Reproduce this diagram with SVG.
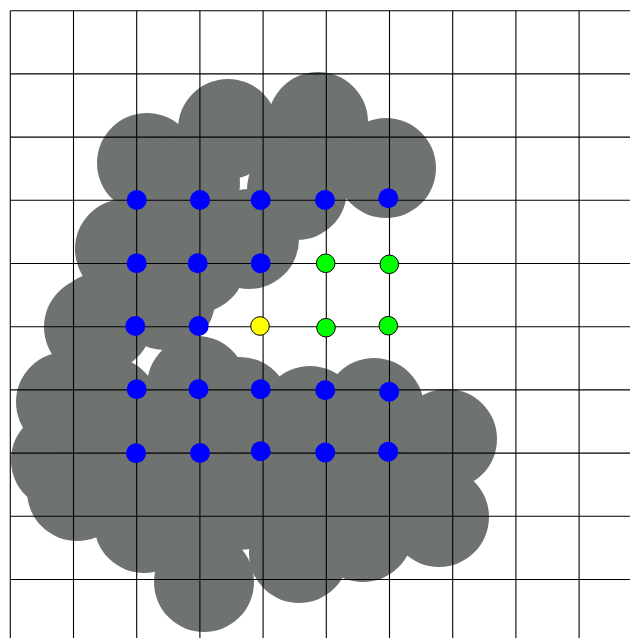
<svg xmlns="http://www.w3.org/2000/svg" width="630" height="638" viewBox="0 0 630 638">
<style>
.blob{fill:#6f736f}
.grid line{stroke:#000;stroke-width:1.1}
.blue{fill:#0000ff}
.green{fill:#00ff00;stroke:#000;stroke-width:1}
.yellow{fill:#ffff00;stroke:#000;stroke-width:1}
</style>
<rect width="630" height="638" fill="#fff"/>
<g id="coverage" class="blob">
<circle cx="147" cy="163" r="50"/>
<circle cx="228" cy="129" r="50"/>
<circle cx="318" cy="122" r="50"/>
<circle cx="386" cy="168" r="50"/>
<circle cx="297" cy="190" r="50"/>
<circle cx="190" cy="183" r="50"/>
<circle cx="249" cy="239" r="50"/>
<circle cx="125" cy="249" r="50"/>
<circle cx="196" cy="263" r="50"/>
<circle cx="165" cy="300" r="50"/>
<circle cx="94" cy="327" r="50"/>
<circle cx="102" cy="322" r="50"/>
<circle cx="197" cy="386" r="50"/>
<circle cx="240" cy="407" r="50"/>
<circle cx="310" cy="416" r="50"/>
<circle cx="374" cy="408" r="50"/>
<circle cx="447" cy="439" r="50"/>
<circle cx="439" cy="517" r="50"/>
<circle cx="363" cy="532" r="50"/>
<circle cx="299" cy="553" r="50"/>
<circle cx="204" cy="582" r="50"/>
<circle cx="144" cy="523" r="50"/>
<circle cx="77" cy="491" r="50"/>
<circle cx="61" cy="460" r="50"/>
<circle cx="66" cy="402" r="50"/>
<circle cx="109" cy="407" r="50"/>
<circle cx="150" cy="450" r="50"/>
<circle cx="200" cy="450" r="50"/>
<circle cx="260" cy="450" r="50"/>
<circle cx="320" cy="460" r="50"/>
<circle cx="390" cy="460" r="50"/>
<circle cx="240" cy="500" r="50"/>
<circle cx="180" cy="500" r="50"/>
<circle cx="320" cy="510" r="50"/>
<circle cx="390" cy="500" r="50"/>
</g>
<g id="grid" class="grid">
<line x1="10.3" y1="10.7" x2="10.3" y2="638"/>
<line x1="73.5" y1="10.7" x2="73.5" y2="638"/>
<line x1="136.7" y1="10.7" x2="136.7" y2="638"/>
<line x1="199.9" y1="10.7" x2="199.9" y2="638"/>
<line x1="263.1" y1="10.7" x2="263.1" y2="638"/>
<line x1="326.3" y1="10.7" x2="326.3" y2="638"/>
<line x1="389.5" y1="10.7" x2="389.5" y2="638"/>
<line x1="452.7" y1="10.7" x2="452.7" y2="638"/>
<line x1="515.9" y1="10.7" x2="515.9" y2="638"/>
<line x1="579.1" y1="10.7" x2="579.1" y2="638"/>
<line x1="10.3" y1="10.7" x2="630" y2="10.7"/>
<line x1="10.3" y1="73.9" x2="630" y2="73.9"/>
<line x1="10.3" y1="137.1" x2="630" y2="137.1"/>
<line x1="10.3" y1="200.3" x2="630" y2="200.3"/>
<line x1="10.3" y1="263.5" x2="630" y2="263.5"/>
<line x1="10.3" y1="326.7" x2="630" y2="326.7"/>
<line x1="10.3" y1="389.9" x2="630" y2="389.9"/>
<line x1="10.3" y1="453.1" x2="630" y2="453.1"/>
<line x1="10.3" y1="516.3" x2="630" y2="516.3"/>
<line x1="10.3" y1="579.5" x2="630" y2="579.5"/>
</g>
<g id="connectors"></g>
<g id="n-1-1"><circle class="blue" cx="136.7" cy="200" r="10"/></g>
<g id="n-1-2"><circle class="blue" cx="200" cy="200" r="10"/></g>
<g id="n-1-3"><circle class="blue" cx="260.7" cy="200" r="10"/></g>
<g id="n-1-4"><circle class="blue" cx="325" cy="200" r="10"/></g>
<g id="n-1-5"><circle class="blue" cx="388.3" cy="198.3" r="10"/></g>
<g id="n-2-1"><circle class="blue" cx="136.7" cy="263.3" r="10"/></g>
<g id="n-2-2"><circle class="blue" cx="197.7" cy="263.3" r="10"/></g>
<g id="n-2-3"><circle class="blue" cx="260.7" cy="263.3" r="10"/></g>
<g id="n-2-4"><circle class="green" cx="325.7" cy="263.3" r="9.3"/></g>
<g id="n-2-5"><circle class="green" cx="389.3" cy="264.3" r="9.3"/></g>
<g id="n-3-1"><circle class="blue" cx="135.3" cy="326" r="10"/></g>
<g id="n-3-2"><circle class="blue" cx="198.7" cy="326" r="10"/></g>
<g id="n-3-3"><circle class="yellow" cx="260" cy="326" r="9.3"/></g>
<g id="n-3-4"><circle class="green" cx="326" cy="327.7" r="9.3"/></g>
<g id="n-3-5"><circle class="green" cx="388.3" cy="325.7" r="9.3"/></g>
<g id="n-4-1"><circle class="blue" cx="136.7" cy="389.3" r="10"/></g>
<g id="n-4-2"><circle class="blue" cx="198.5" cy="389.3" r="10"/></g>
<g id="n-4-3"><circle class="blue" cx="260.7" cy="389.3" r="10"/></g>
<g id="n-4-4"><circle class="blue" cx="325.2" cy="390.3" r="10"/></g>
<g id="n-4-5"><circle class="blue" cx="389.2" cy="391.7" r="10"/></g>
<g id="n-5-1"><circle class="blue" cx="136" cy="453.3" r="10"/></g>
<g id="n-5-2"><circle class="blue" cx="200" cy="453" r="10"/></g>
<g id="n-5-3"><circle class="blue" cx="260.7" cy="451.3" r="10"/></g>
<g id="n-5-4"><circle class="blue" cx="325.2" cy="452.5" r="10"/></g>
<g id="n-5-5"><circle class="blue" cx="388.2" cy="451.8" r="10"/></g>
</svg>
